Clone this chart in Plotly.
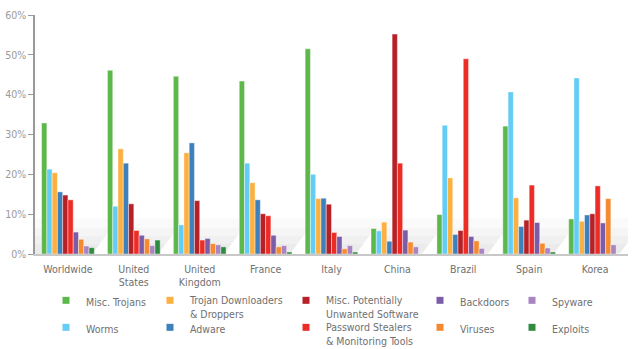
import plotly.graph_objects as go

categories = ["Worldwide", "United<br>States", "United<br>Kingdom", "France", "Italy",
              "China", "Brazil", "Spain", "Korea"]

series_names = ["Misc. Trojans", "Worms", "Trojan Downloaders<br>& Droppers", "Adware",
                "Misc. Potentially<br>Unwanted Software", "Password Stealers<br>& Monitoring Tools",
                "Backdoors", "Viruses", "Spyware", "Exploits"]

misc_trojans = [32.9, 46.1, 44.6, 43.4, 51.5, 6.4, 9.9, 32.1, 8.8]
worms = [21.3, 12.0, 7.3, 22.8, 20.0, 5.8, 32.3, 40.7, 44.2]
trojan_downloaders = [20.4, 26.4, 25.4, 17.9, 13.9, 8.0, 19.1, 14.1, 8.2]
adware = [15.6, 22.8, 27.9, 13.6, 14.0, 3.2, 4.9, 6.9, 9.8]
misc_pus = [14.8, 12.6, 13.4, 10.1, 12.5, 55.2, 5.9, 8.5, 10.1]
password_stealers = [13.6, 5.9, 3.5, 9.6, 5.4, 22.8, 49.0, 17.3, 17.1]
backdoors = [5.5, 4.7, 3.9, 4.7, 4.4, 6.0, 4.4, 7.9, 7.8]
viruses = [3.7, 3.8, 2.6, 1.8, 1.3, 3.0, 3.3, 2.7, 13.9]
spyware = [2.0, 2.1, 2.3, 2.1, 2.1, 1.8, 1.4, 1.5, 2.3]
exploits = [1.6, 3.5, 1.8, 0.5, 0.5, 0.0, 0.0, 0.5, 0.0]

series_values = [misc_trojans, worms, trojan_downloaders, adware, misc_pus,
                 password_stealers, backdoors, viruses, spyware, exploits]

colors = ["#5cb84a", "#63cdf5", "#fcb040", "#3c80bd", "#b52126",
          "#ee2c26", "#7a5ca8", "#f58a31", "#a884c3", "#2f8c3f"]

tick_vals = [0, 10, 20, 30, 40, 50, 60]
tick_text = ["0%", "10%", "20%", "30%", "40%", "50%", "60%"]

# legend placement (container pixels): text start x of each column, row y
legend_cols = [82, 186, 322, 456, 548]
legend_pos = {
    "Misc. Trojans": (0, 0), "Trojan Downloaders<br>& Droppers": (1, 0),
    "Misc. Potentially<br>Unwanted Software": (2, 0), "Backdoors": (3, 0), "Spyware": (4, 0),
    "Worms": (0, 1), "Adware": (1, 1), "Password Stealers<br>& Monitoring Tools": (2, 1),
    "Viruses": (3, 1), "Exploits": (4, 1),
}
legend_rows = [287, 314]

W, H = 640, 349
FONT = "Liberation Sans Narrow, DejaVu Sans Condensed, Arial Narrow, sans-serif"
FS = 10.5

fig = go.Figure()

for i, (name, vals, col) in enumerate(zip(series_names, series_values, colors)):
    fig.add_trace(go.Bar(
        x=categories, y=vals, name=name,
        marker=dict(color=col, line=dict(color="rgba(255,255,255,0.7)", width=0.6)),
        showlegend=False, legendgroup=f"g{i}", hoverinfo="y+name"))

layout_legends = {}
for i, (name, col) in enumerate(zip(series_names, colors)):
    c, r = legend_pos[name]
    key = "legend" if i == 0 else f"legend{i + 1}"
    fig.add_trace(go.Scatter(
        x=[categories[0]], y=[None], mode="markers", name=name, legendgroup=f"g{i}",
        marker=dict(symbol="square", size=7, color=col), legend=key, showlegend=True,
        hoverinfo="skip"))
    layout_legends[key] = dict(
        x=(legend_cols[c] - 36) / W, y=1 - legend_rows[r] / H, xref="container", yref="container",
        xanchor="left", yanchor="top", valign="top", bgcolor="rgba(0,0,0,0)",
        font=dict(family=FONT, size=FS, color="#707070"))

# subtle floor shading near the baseline
for top, op in [(9, 0.018), (6.5, 0.02), (4.5, 0.02), (2.5, 0.02)]:
    fig.add_shape(type="rect", xref="paper", yref="y", x0=0, x1=1, y0=0, y1=top,
                  fillcolor=f"rgba(0,0,0,{op})", line=dict(width=0), layer="below")

# white slanted cuts between the floor panels of each group
for g in range(len(categories)):
    c = g + 0.5
    fig.add_shape(type="path", xref="x", yref="y",
                  path=f"M{c - 0.13},0 L{c + 0.14},0 L{c + 0.14},6 Z",
                  fillcolor="white", line=dict(width=0), layer="below")

fig.update_layout(
    width=W, height=H,
    margin=dict(l=35, r=12, t=15, b=95, autoexpand=False),
    paper_bgcolor="white", plot_bgcolor="white",
    barmode="group", bargap=0.2, bargroupgap=0.0,
    font=dict(family=FONT, size=FS, color="#707070"),
    xaxis=dict(type="category", categoryorder="array", categoryarray=categories,
               range=[-0.5, len(categories) - 0.5],
               showgrid=False, showline=True, linecolor="#c8c8c8", linewidth=2,
               ticks="", ticklabelstandoff=4,
               tickfont=dict(family=FONT, size=FS, color="#707070")),
    yaxis=dict(range=[0, 60], tickvals=tick_vals, ticktext=tick_text, showgrid=False,
               showline=True, linecolor="#9a9a9a", linewidth=1.5, ticks="outside",
               ticklen=5, tickcolor="#9a9a9a", tickwidth=1,
               tickfont=dict(family=FONT, size=FS, color="#9a9a9a"), zeroline=False),
    **layout_legends,
)

fig.write_html("out.html")
